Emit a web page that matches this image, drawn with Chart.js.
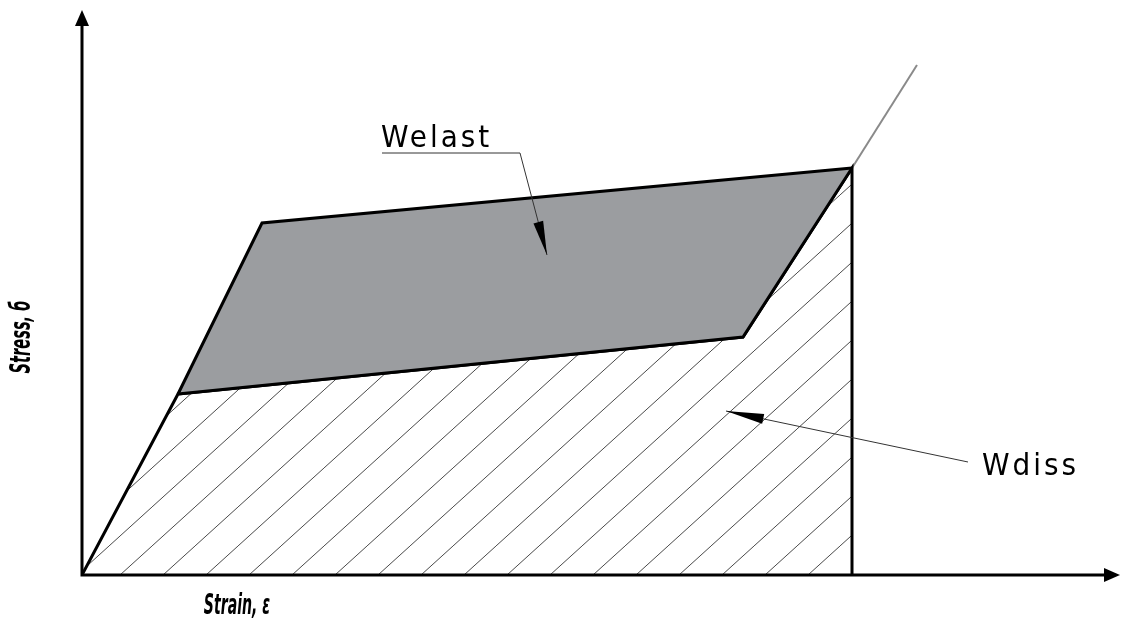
<!DOCTYPE html>
<html>
<head>
<meta charset="utf-8">
<script src="https://cdn.jsdelivr.net/npm/chart.js@4/dist/chart.umd.min.js"></script>
<style>
  html, body { margin: 0; padding: 0; background: #fff; }
  #wrap { width: 1122px; height: 635px; }
</style>
</head>
<body>
<div id="wrap"><canvas id="ssChart" width="1122" height="635"></canvas></div>
<script>
// ----------------- datos (unidades arbitrarias) -----------------
// zona rayada (W diss): origen -> fluencia -> descarga -> pico -> eje
const dissStrain = [0, 9.6, 66.1, 77.0, 77.0];
const dissStress = [0, 18.1, 23.8, 40.7, 0];
// ciclo gris (W elast): rama superior y rama inferior
const upperStrain = [9.6, 18.0, 77.0];
const upperStress = [18.1, 35.2, 40.7];
const lowerStrain = [9.6, 66.1, 77.0];
const lowerStress = [18.1, 23.8, 40.7];
// continuación de la curva tras el pico
const tailStrain = [77.0, 83.5];
const tailStress = [40.7, 51.0];

const labelTexts = ["Welast", "Wdiss"];
const axisTitles = ["Strain, ε", "Stress, б"];

const X_MAX = 103.8;
const Y_MAX = 56.5;

// ----------------- util -----------------
function toPoints(xs, ys) {
  return xs.map((x, i) => ({ x: x, y: ys[i] }));
}

function makeHatch() {
  const w = 43, h = 39;
  const c = document.createElement("canvas");
  c.width = w;
  c.height = h;
  const g = c.getContext("2d");
  g.strokeStyle = "#4a4a4a";
  g.lineWidth = 1;
  for (let k = -1; k <= 1; k++) {
    g.beginPath();
    g.moveTo(k * w, h);
    g.lineTo((k + 1) * w, 0);
    g.stroke();
  }
  const ctx = document.createElement("canvas").getContext("2d");
  const p = ctx.createPattern(c, "repeat");
  if (p.setTransform) p.setTransform(new DOMMatrix().translate(23, 0));
  return p;
}

function arrowHead(ctx, x0, y0, x1, y1, len, half) {
  const a = Math.atan2(y1 - y0, x1 - x0);
  ctx.beginPath();
  ctx.moveTo(x1, y1);
  ctx.lineTo(x1 - len * Math.cos(a) + half * Math.sin(a), y1 - len * Math.sin(a) - half * Math.cos(a));
  ctx.lineTo(x1 - len * Math.cos(a) - half * Math.sin(a), y1 - len * Math.sin(a) + half * Math.cos(a));
  ctx.closePath();
  ctx.fill();
}

// texto estrecho (tipo plano técnico)
function narrowText(ctx, text, x, y, rot, sx) {
  ctx.save();
  ctx.translate(x, y);
  ctx.rotate(rot);
  ctx.scale(sx, 1);
  ctx.fillText(text, 0, 0);
  ctx.restore();
}

// ----------------- plugin: ejes, títulos y rótulos -----------------
const sketchPlugin = {
  id: "sketch",
  afterDraw(chart) {
    const ctx = chart.ctx;
    const xs = chart.scales.x;
    const ys = chart.scales.y;
    const ox = xs.getPixelForValue(0);
    const oy = ys.getPixelForValue(0);
    const right = xs.getPixelForValue(X_MAX);
    const top = ys.getPixelForValue(Y_MAX);

    ctx.save();
    // ejes
    ctx.strokeStyle = "#000";
    ctx.fillStyle = "#000";
    ctx.lineWidth = 3;
    ctx.beginPath();
    ctx.moveTo(ox, oy);
    ctx.lineTo(ox, top + 12);
    ctx.moveTo(ox - 1.5, oy);
    ctx.lineTo(right - 12, oy);
    ctx.stroke();
    arrowHead(ctx, ox, oy, ox, top, 16, 7);
    arrowHead(ctx, ox, oy, right, oy, 16, 7);

    // títulos de ejes
    ctx.font = "italic bold 28px 'DejaVu Sans Condensed', 'DejaVu Sans'";
    ctx.textAlign = "center";
    ctx.textBaseline = "middle";
    narrowText(ctx, axisTitles[0], xs.getPixelForValue(15.5), oy + 32, 0, 0.56);
    narrowText(ctx, axisTitles[1], 23, ys.getPixelForValue(23.8), -Math.PI / 2, 0.58);

    // rótulos
    ctx.font = "31px 'DejaVu Sans Condensed', 'DejaVu Sans'";
    if ("letterSpacing" in ctx) ctx.letterSpacing = "3px";
    ctx.textAlign = "left";
    ctx.textBaseline = "alphabetic";
    ctx.fillText(labelTexts[0], xs.getPixelForValue(29.9), ys.getPixelForValue(42.8));
    ctx.fillText(labelTexts[1], xs.getPixelForValue(90.0), ys.getPixelForValue(10.0));
    if ("letterSpacing" in ctx) ctx.letterSpacing = "0px";

    // líneas de referencia
    ctx.strokeStyle = "#333";
    ctx.fillStyle = "#000";
    ctx.lineWidth = 1;
    const wl = [
      [xs.getPixelForValue(30.0), ys.getPixelForValue(42.2)],
      [xs.getPixelForValue(43.8), ys.getPixelForValue(42.2)],
      [xs.getPixelForValue(46.5), ys.getPixelForValue(32.0)],
    ];
    ctx.beginPath();
    ctx.moveTo(wl[0][0], wl[0][1]);
    ctx.lineTo(wl[1][0], wl[1][1]);
    ctx.lineTo(wl[2][0], wl[2][1]);
    ctx.stroke();
    arrowHead(ctx, wl[1][0], wl[1][1], wl[2][0], wl[2][1], 34, 5);

    const wd = [
      [xs.getPixelForValue(88.6), ys.getPixelForValue(11.3)],
      [xs.getPixelForValue(64.4), ys.getPixelForValue(16.4)],
    ];
    ctx.beginPath();
    ctx.moveTo(wd[0][0], wd[0][1]);
    ctx.lineTo(wd[1][0], wd[1][1]);
    ctx.stroke();
    arrowHead(ctx, wd[0][0], wd[0][1], wd[1][0], wd[1][1], 38, 5);
    ctx.restore();
  },
};

// ----------------- gráfico -----------------
function renderChart() {
  const canvas = document.getElementById("ssChart");
  const ctx = canvas.getContext("2d");
  const hatch = makeHatch();

  new Chart(ctx, {
    type: "scatter",
    data: {
      datasets: [
        {
          label: "upper",
          data: toPoints(upperStrain, upperStress),
          showLine: true,
          borderColor: "#000",
          borderWidth: 3,
          backgroundColor: "#9b9da0",
          fill: "+1",
          pointRadius: 0,
          order: 1,
        },
        {
          label: "lower",
          data: toPoints(lowerStrain, lowerStress),
          showLine: true,
          borderColor: "#000",
          borderWidth: 3,
          fill: false,
          pointRadius: 0,
          order: 0,
        },
        {
          label: "diss",
          data: toPoints(dissStrain, dissStress),
          showLine: true,
          borderColor: "#000",
          borderWidth: 3,
          backgroundColor: hatch,
          fill: "origin",
          pointRadius: 0,
          order: 2,
        },
        {
          label: "tail",
          data: toPoints(tailStrain, tailStress),
          showLine: true,
          borderColor: "#8a8a8a",
          borderWidth: 2,
          fill: false,
          pointRadius: 0,
          order: 3,
        },
      ],
    },
    options: {
      animation: false,
      responsive: false,
      maintainAspectRatio: false,
      layout: { padding: { left: 82, top: 10, right: 2, bottom: 60 } },
      plugins: {
        legend: { display: false },
        tooltip: { enabled: false },
      },
      scales: {
        x: { type: "linear", display: false, min: 0, max: X_MAX },
        y: { type: "linear", display: false, min: 0, max: Y_MAX },
      },
    },
    plugins: [sketchPlugin],
  });
}

window.addEventListener("DOMContentLoaded", renderChart);
</script>
</body>
</html>
